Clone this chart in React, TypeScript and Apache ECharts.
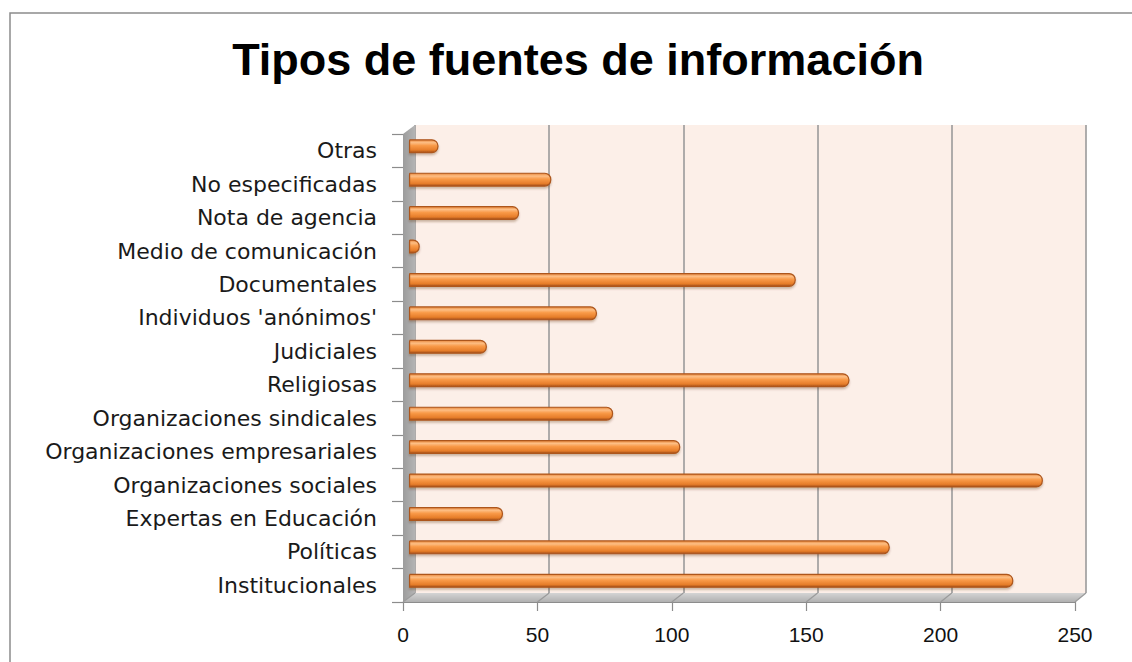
import React, { useEffect, useRef } from "react";
import * as echarts from "echarts";

const categories = [
  "Otras",
  "No especificadas",
  "Nota de agencia",
  "Medio de comunicación",
  "Documentales",
  "Individuos 'anónimos'",
  "Judiciales",
  "Religiosas",
  "Organizaciones sindicales",
  "Organizaciones empresariales",
  "Organizaciones sociales",
  "Expertas en Educación",
  "Políticas",
  "Institucionales",
];
const values = [11, 53, 41, 4, 144, 70, 29, 164, 76, 101, 236, 35, 179, 225];
const xMin = 0;
const xMax = 250;
const xStep = 50;
const titleText = "Tipos de fuentes de información";

// layout of the faux-3D planes
const BACK = { left: 415, top: 125, width: 671, height: 468 };
const DX = -12;
const DY = 9;
const MID = { left: BACK.left + DX / 2, top: BACK.top + DY / 2, width: 671.5, height: 468 };
const FRONT = { left: BACK.left + DX, top: BACK.top + DY, width: 672, height: 468 };

export default function App() {
  const ref = useRef<HTMLDivElement>(null);
  useEffect(() => {
    if (!ref.current) return;
    const chart = echarts.init(ref.current, null, { renderer: "svg" });
    const bx0 = BACK.left, bx1 = BACK.left + BACK.width;
    const by0 = BACK.top, by1 = BACK.top + BACK.height;
    const fx0 = FRONT.left, fx1 = FRONT.left + FRONT.width;
    const fy0 = FRONT.top, fy1 = FRONT.top + FRONT.height;

    const floorLines: any[] = [];
    for (let v = xMin; v <= xMax; v += xStep) {
      const t = (v - xMin) / (xMax - xMin);
      floorLines.push({
        type: "line",
        z: 2,
        silent: true,
        shape: { x1: bx0 + t * BACK.width, y1: by1, x2: fx0 + t * FRONT.width, y2: fy1 },
        style: { stroke: "#9a9a9a", lineWidth: 1.2 },
      });
    }

    const option: any = {
      animation: false,
      backgroundColor: "#ffffff",
      title: {
        text: titleText,
        left: 578,
        top: 37,
        textAlign: "center",
        padding: 0,
        textStyle: {
          fontFamily: "Liberation Sans, Arial, sans-serif",
          fontWeight: "bold",
          fontSize: 45,
          color: "#000000",
        },
      },
      grid: [
        { ...BACK, show: true, backgroundColor: "#fcefe8", borderWidth: 0, containLabel: false },
        { ...MID, containLabel: false },
        { ...FRONT, containLabel: false },
      ],
      xAxis: [
        {
          gridIndex: 0,
          type: "value",
          min: xMin,
          max: xMax,
          interval: xStep,
          axisLine: { show: false },
          axisTick: { show: false },
          axisLabel: { show: false },
          splitLine: { show: true, lineStyle: { color: "#9a9a9a", width: 1.6 } },
        },
        {
          gridIndex: 1,
          type: "value",
          min: xMin,
          max: xMax,
          interval: xStep,
          show: false,
          splitLine: { show: false },
        },
        {
          gridIndex: 2,
          type: "value",
          min: xMin,
          max: xMax,
          interval: xStep,
          position: "bottom",
          axisLine: { show: true, lineStyle: { color: "#8c8c8c", width: 1.2 } },
          axisTick: { show: true, length: 9, lineStyle: { color: "#8c8c8c", width: 1.2 } },
          axisLabel: {
            margin: 22,
            fontFamily: "Liberation Sans, Arial, sans-serif",
            fontSize: 21,
            color: "#111111",
          },
          splitLine: { show: false },
        },
      ],
      yAxis: [
        { gridIndex: 0, type: "category", data: categories, inverse: true, show: false },
        { gridIndex: 1, type: "category", data: categories, inverse: true, show: false },
        {
          gridIndex: 2,
          type: "category",
          data: categories,
          inverse: true,
          axisLine: { show: false },
          axisTick: { show: true, length: 11, lineStyle: { color: "#8c8c8c", width: 1.2 } },
          axisLabel: {
            margin: 26,
            fontFamily: "DejaVu Sans, sans-serif",
            fontSize: 22,
            color: "#1a1a1a",
          },
          splitLine: { show: false },
        },
      ],
      series: [
        {
          type: "bar",
          xAxisIndex: 1,
          yAxisIndex: 1,
          data: values,
          barWidth: 14,
          z: 5,
          itemStyle: {
            color: new echarts.graphic.LinearGradient(0, 0, 0, 1, [
              { offset: 0, color: "#e8873c" },
              { offset: 0.22, color: "#fdbe84" },
              { offset: 0.45, color: "#f99a48" },
              { offset: 0.8, color: "#e67d2a" },
              { offset: 1, color: "#a24d17" },
            ]),
            borderColor: "#ad561c",
            borderWidth: 1.2,
            borderRadius: [0, 6, 6, 0],
            shadowColor: "rgba(90,40,10,0.3)",
            shadowBlur: 2,
            shadowOffsetY: 2,
          },
        },
      ],
      graphic: [
        {
          type: "rect",
          z: 100,
          silent: true,
          shape: { x: 10, y: 13, width: 1200, height: 720 },
          style: { fill: "none", stroke: "#8c8c8c", lineWidth: 1.5 },
        },
        {
          type: "polygon",
          z: 1,
          silent: true,
          shape: { points: [[bx0, by0], [bx0, by1], [fx0, fy1], [fx0, fy0]] },
          style: {
            fill: new echarts.graphic.LinearGradient(0, 0, 1, 0, [
              { offset: 0, color: "#9c9c9c" },
              { offset: 1, color: "#b4b4b4" },
            ]),
          },
        },
        {
          type: "polygon",
          z: 1,
          silent: true,
          shape: { points: [[bx0, by1], [bx1, by1], [fx1, fy1], [fx0, fy1]] },
          style: {
            fill: new echarts.graphic.LinearGradient(0, 0, 0, 1, [
              { offset: 0, color: "#d4d4d4" },
              { offset: 1, color: "#b0b0b0" },
            ]),
          },
        },
        ...floorLines,
      ],
    };
    chart.setOption(option);
    return () => chart.dispose();
  }, []);
  return (
    <div
      ref={ref}
      style={{ position: "fixed", left: 0, top: 0, width: 1132, height: 662 }}
    />
  );
}
